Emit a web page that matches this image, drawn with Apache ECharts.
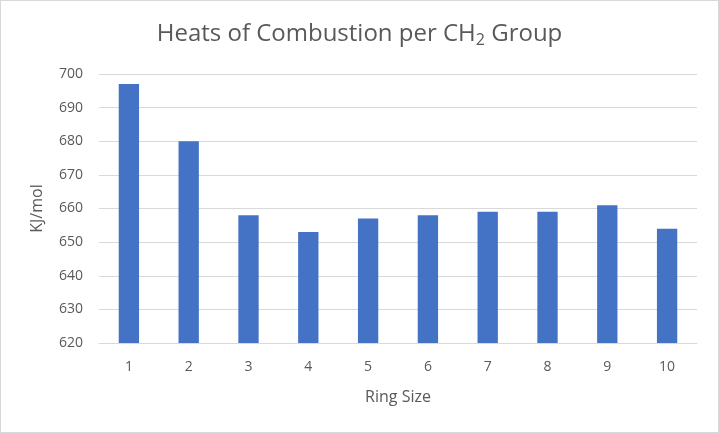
<!DOCTYPE html>
<html>
<head>
    <title>Heats of Combustion</title>
    <meta charset="utf-8">
    <script type="text/javascript" src="https://cdn.jsdelivr.net/npm/echarts@6.0.0/dist/echarts.min.js"></script>
    <style>
        body { margin: 0; background: #fff; }
        #chart { width: 717px; height: 431px; border: 1px solid #d9d9d9; }
    </style>
</head>
<body>
    <div id="chart"></div>
    <script type="text/javascript">
        const ringSizes = ['1', '2', '3', '4', '5', '6', '7', '8', '9', '10'];
        const heats = [697, 680, 658, 653, 657, 658, 659, 659, 661, 654];
        const yMin = 620, yMax = 700, yStep = 10;

        const chart = echarts.init(document.getElementById('chart'));
        const txt = '#595959';
        const font = 'Open Sans';
        chart.setOption({
            animation: false,
            title: {
                text: 'Heats of Combustion per CH{sub|2} Group',
                left: 'center',
                top: 14,
                textStyle: {
                    fontFamily: font, fontSize: 24, fontWeight: 'normal', color: txt,
                    rich: { sub: { fontFamily: font, fontSize: 16, color: txt, verticalAlign: 'bottom', padding: [12, 0, 0, 0] } }
                }
            },
            grid: { left: 98, right: 21, top: 73, bottom: 89 },
            xAxis: {
                type: 'category',
                data: ringSizes,
                name: 'Ring Size',
                nameLocation: 'middle',
                nameGap: 46,
                nameTextStyle: { fontFamily: font, fontSize: 16, color: txt },
                axisLine: { lineStyle: { color: '#d9d9d9', width: 1 } },
                axisTick: { show: false },
                axisLabel: { fontFamily: font, fontSize: 14, color: txt, margin: 17 }
            },
            yAxis: {
                type: 'value',
                min: yMin, max: yMax, interval: yStep,
                name: 'KJ/mol',
                nameLocation: 'middle',
                nameGap: 54,
                nameTextStyle: { fontFamily: font, fontSize: 16, color: txt },
                axisLine: { show: false },
                axisTick: { show: false },
                axisLabel: { fontFamily: font, fontSize: 14, color: txt, margin: 16 },
                splitLine: { lineStyle: { color: '#d9d9d9', width: 1 } }
            },
            series: [{
                type: 'bar',
                data: heats,
                barWidth: '34%',
                itemStyle: { color: '#4472C4' }
            }]
        });
    </script>
</body>
</html>
